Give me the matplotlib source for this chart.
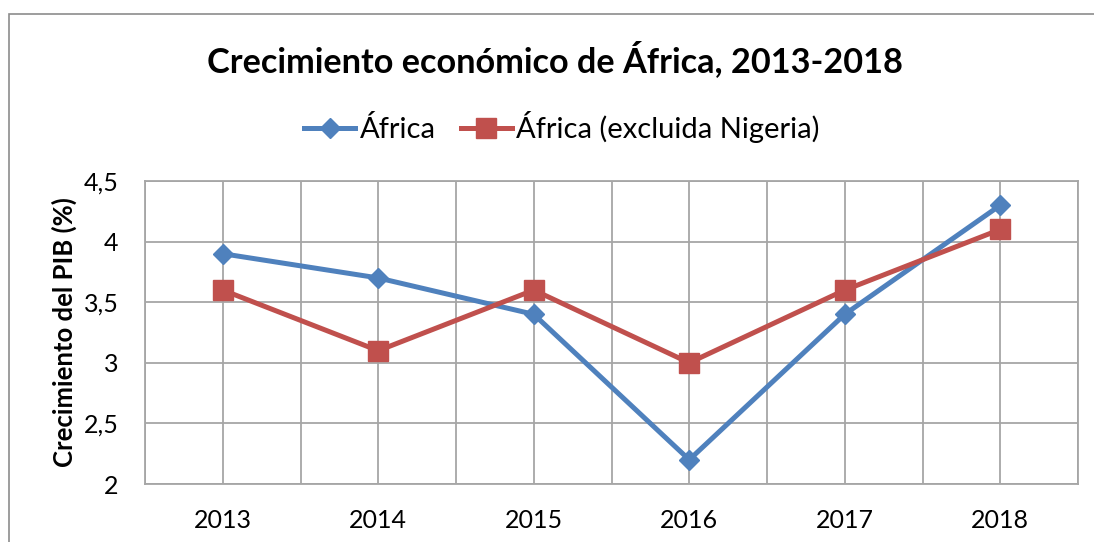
import matplotlib
matplotlib.use("Agg")
import matplotlib.pyplot as plt
from matplotlib.patches import Rectangle

# data
years = ["2013", "2014", "2015", "2016", "2017", "2018"]
africa = [3.9, 3.7, 3.4, 2.2, 3.4, 4.3]
africa_sin_nigeria = [3.6, 3.1, 3.6, 3.0, 3.6, 4.1]
yticks = [2, 2.5, 3, 3.5, 4, 4.5]
ytick_labels = ["2", "2,5", "3", "3,5", "4", "4,5"]

plt.rcParams["font.family"] = ["Lato", "DejaVu Sans"]

fig = plt.figure(figsize=(10.94, 5.42), dpi=100)
fig.patch.set_facecolor("white")

# outer chart border (cropped Excel frame)
fig.add_artist(Rectangle((9 / 1094, -0.1), 1.2, 1.1 - 14 / 542,
                         transform=fig.transFigure, fill=False,
                         edgecolor="#8c8c8c", linewidth=1.2))

ax = fig.add_axes([145 / 1094, 1 - 484 / 542, (1078 - 145) / 1094, (484 - 181) / 542])

x = list(range(len(years)))
ax.plot(x, africa, color="#4F81BD", linewidth=3.6, marker="D",
        markersize=10.5, label="África", zorder=3)
ax.plot(x, africa_sin_nigeria, color="#C0504D", linewidth=3.6, marker="s",
        markersize=14, label="África (excluida Nigeria)", zorder=3)

ax.set_xlim(-0.5, len(years) - 0.5)
ax.set_ylim(2, 4.5)
ax.set_xticks(x)
ax.set_xticklabels(years, fontsize=18)
ax.set_xticks([i - 0.5 for i in range(len(years) + 1)], minor=True)
ax.set_yticks(yticks)
ax.set_yticklabels(ytick_labels, fontsize=18)
ax.tick_params(axis="x", length=0, which="both", pad=18)
ax.tick_params(axis="y", length=0, which="both", pad=19)
ax.grid(True, which="both", color="#a6a6a6", linewidth=1.3)
ax.set_axisbelow(True)
for s in ax.spines.values():
    s.set_color("#a6a6a6")
    s.set_linewidth(1.3)

ax.set_ylabel("Crecimiento del PIB (%)", fontsize=18.5, fontweight="bold", labelpad=5)

fig.text(555 / 1094, 1 - 60 / 542, "Crecimiento económico de África, 2013-2018",
         ha="center", va="center", fontsize=24.7, fontweight="bold")

fig.legend(loc="center", bbox_to_anchor=(562 / 1094, 1 - 127 / 542), ncol=2,
           frameon=False, fontsize=21, handlelength=1.75, columnspacing=0.85,
           handletextpad=0.15)

fig.savefig("out.png", dpi=100)
